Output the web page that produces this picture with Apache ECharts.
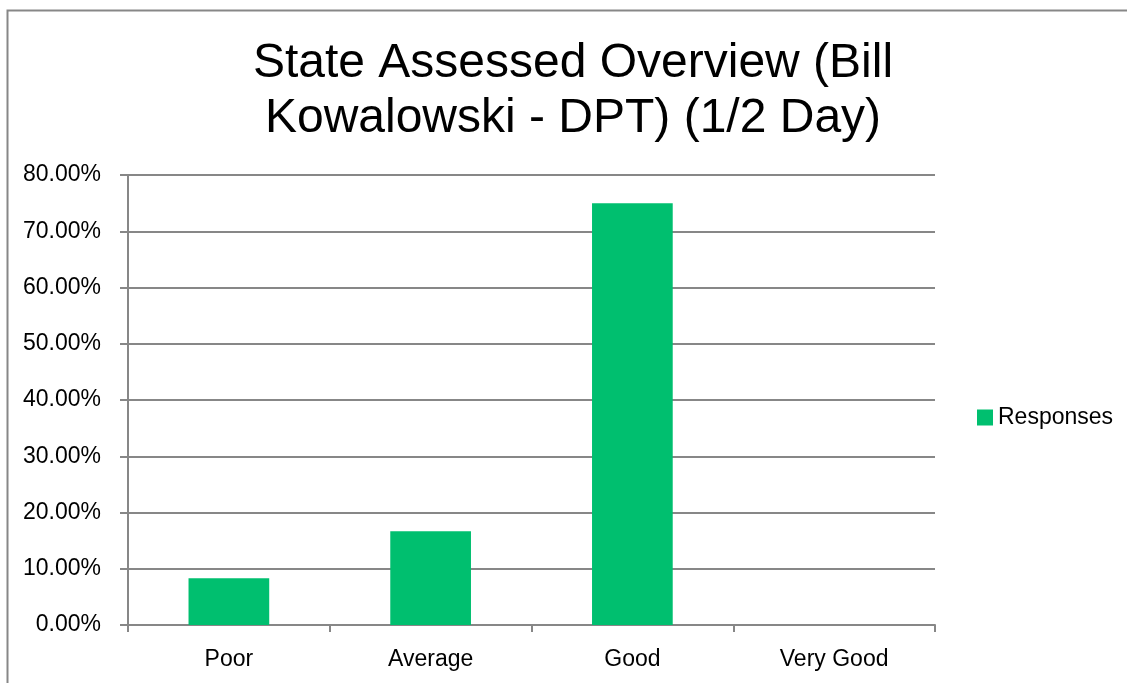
<!DOCTYPE html>
<html><head><meta charset="utf-8">
<script src="https://cdn.jsdelivr.net/npm/echarts@6/dist/echarts.min.js"></script>
<style>html,body{margin:0;padding:0;background:#fff;}#c{width:1127px;height:683px;}</style>
</head><body><div id="c"></div>
<script>
const titleText = 'State Assessed Overview (Bill\nKowalowski - DPT) (1/2 Day)';
const categories = ['Poor', 'Average', 'Good', 'Very Good'];
const responses = [8.33, 16.67, 75.0, 0];
const seriesName = 'Responses';
const yTicks = { min: 0, max: 80, interval: 10 };

const chart = echarts.init(document.getElementById('c'), null, { renderer: 'canvas' });
const font = 'Liberation Sans, Arial, sans-serif';
chart.setOption({
  backgroundColor: '#fff',
  animation: false,
  graphic: [{
    type: 'rect', shape: { x: 7.5, y: 10.5, width: 1300, height: 900 },
    style: { fill: 'none', stroke: '#878787', lineWidth: 2 }, silent: true
  }],
  title: {
    text: titleText, left: 568, textAlign: 'center', top: 31,
    textStyle: { fontFamily: font, fontSize: 48, fontWeight: 'normal', color: '#000', lineHeight: 55 }
  },
  legend: {
    data: [seriesName], left: 972, top: 401, orient: 'vertical',
    itemWidth: 16, itemHeight: 16, itemGap: 6,
    icon: 'rect',
    textStyle: { fontFamily: font, fontSize: 23, color: '#000', padding: [0,0,0,0] }
  },
  grid: { left: 128, right: 1127 - 935, top: 175, bottom: 683 - 625, containLabel: false },
  xAxis: {
    type: 'category', data: categories,
    axisLine: { lineStyle: { color: '#878787', width: 2 } },
    axisTick: { show: true, length: 7, alignWithLabel: false, lineStyle: { color: '#878787', width: 2 } },
    axisLabel: { fontFamily: font, fontSize: 23, color: '#000', margin: 23 }
  },
  yAxis: {
    type: 'value', min: yTicks.min, max: yTicks.max, interval: yTicks.interval,
    axisLine: { show: true, lineStyle: { color: '#878787', width: 2 } },
    axisTick: { show: true, length: 8, lineStyle: { color: '#878787', width: 2 } },
    splitLine: { lineStyle: { color: '#878787', width: 2 } },
    axisLabel: { fontFamily: font, fontSize: 23, color: '#000', margin: 27,
      formatter: v => v.toFixed(2) + '%' }
  },
  series: [{
    name: seriesName, type: 'bar', data: responses, barWidth: '40%',
    itemStyle: { color: '#00BF6F' }
  }]
});
</script></body></html>
